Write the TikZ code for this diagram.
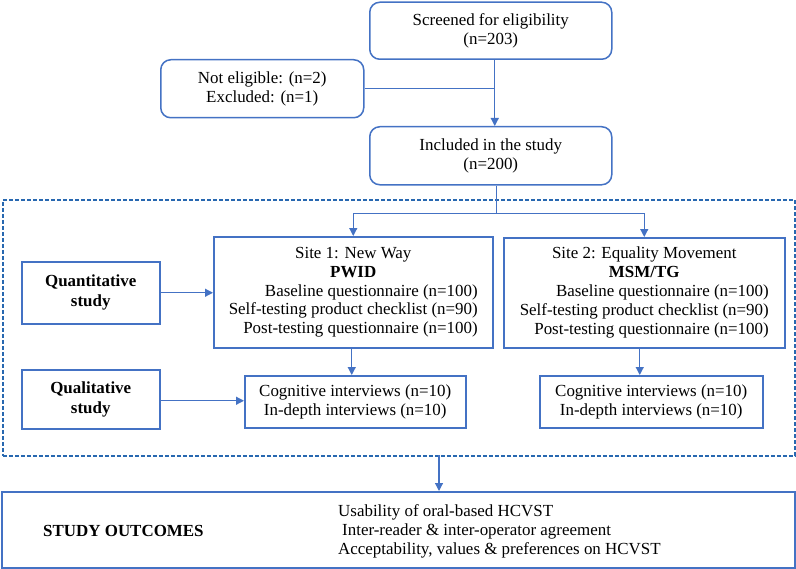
\documentclass[tikz,border=0pt]{standalone}
\usepackage{fontspec}
\setmainfont{Liberation Serif}
\usetikzlibrary{arrows.meta}
\definecolor{boxblue}{RGB}{68,114,196}
\definecolor{dashblue}{RGB}{40,104,176}
\tikzset{
  box/.style={draw=boxblue, line width=1.5bp, anchor=north west, inner sep=0pt, align=center, fill=white},
  rbox/.style={box, rounded corners=10bp},
  conn/.style={draw=boxblue, line width=1.2bp},
  arr/.style={conn, -{Triangle[length=8bp,width=8bp]}},
  dashbox/.style={draw=dashblue, line width=1.6bp, dash pattern=on 4bp off 2bp, anchor=north west, inner sep=0pt},
  txt/.style={inner sep=0pt, font=\fontsize{17}{19}\selectfont}
}
\begin{document}
\begin{tikzpicture}[x=1bp, y=-1bp, every node/.style={font=\fontsize{17}{19}\selectfont}]
\useasboundingbox (0,0) rectangle (796,569);
% dashed frame
\node[dashbox, minimum width=792bp, minimum height=256bp] (dash) at (2,199) {};
% top boxes
\node[rbox, minimum width=242bp, minimum height=57bp] (screen) at (369,1.5) {Screened for eligibility\\(n=203)};
\node[rbox, minimum width=203bp, minimum height=58bp] (notel) at (160,59) {Not eligible: (n=2)\\Excluded: (n=1)};
\node[rbox, minimum width=242bp, minimum height=58bp] (incl) at (369,126) {Included in the study\\(n=200)};
% site boxes
\node[box, minimum width=279bp, minimum height=111bp] (site1) at (213,236) {%
  \begin{tabular}{@{}r@{}}\multicolumn{1}{@{}c@{}}{Site 1: New Way}\\ \multicolumn{1}{@{}c@{}}{\textbf{PWID}}\\ Baseline questionnaire (n=100)\\ Self-testing product checklist (n=90)\\ Post-testing questionnaire (n=100)\end{tabular}};
\node[box, minimum width=281bp, minimum height=110bp] (site2) at (503,237) {%
  \begin{tabular}{@{}r@{}}\multicolumn{1}{@{}c@{}}{Site 2: Equality Movement}\\ \multicolumn{1}{@{}c@{}}{\textbf{MSM/TG}}\\ Baseline questionnaire (n=100)\\ Self-testing product checklist (n=90)\\ Post-testing questionnaire (n=100)\end{tabular}};
% left boxes
\node[box, minimum width=138bp, minimum height=62bp, font=\fontsize{17}{20}\selectfont\bfseries] (quant) at (21,261) {Quantitative\\study};
\node[box, minimum width=138bp, minimum height=59bp, font=\fontsize{17}{20}\selectfont\bfseries] (qual) at (21,369) {Qualitative\\study};
% interview boxes
\node[box, minimum width=221bp, minimum height=52bp] (cog1) at (244,375) {Cognitive interviews (n=10)\\In-depth interviews (n=10)};
\node[box, minimum width=223bp, minimum height=52bp] (cog2) at (539,375) {Cognitive interviews (n=10)\\In-depth interviews (n=10)};
% outcomes
\node[box, minimum width=793bp, minimum height=76bp] (out) at (1,491) {};
\node[txt, anchor=west, font=\fontsize{17}{19}\selectfont\bfseries] (outl) at (43,531) {STUDY OUTCOMES};
\node[txt, anchor=west, align=left] (outr) at (338,531) {Usability of oral-based HCVST\\\hspace{4bp}Inter-reader \& inter-operator agreement\\Acceptability, values \& preferences on HCVST};
% connectors
\coordinate (junc) at ([xshift=4bp]screen.south |- notel.east);
\draw[conn] (notel.east) -- (junc);
\draw[arr] ([xshift=4bp]screen.south) -- ([xshift=4bp]incl.north);
\coordinate (split) at ([xshift=6bp,yshift=-28bp]incl.south);
\draw[conn] ([xshift=6bp]incl.south) -- (split);
\draw[arr] (split) -| (site1.north);
\draw[arr] (split) -| (site2.north);
\draw[arr] (quant.east) -- (quant.east -| site1.west);
\draw[arr] ([yshift=-1.5bp]qual.east) -- ([yshift=-1.5bp]qual.east -| cog1.west);
\draw[arr] ([xshift=-1.5bp]site1.south) -- ([xshift=-1.5bp]site1.south |- cog1.north);
\draw[arr] ([xshift=-4.5bp]site2.south) -- ([xshift=-4.5bp]site2.south |- cog2.north);
\coordinate (dbot) at (439,455);
\draw[arr] (dbot) -- (dbot |- out.north);
\end{tikzpicture}
\end{document}
